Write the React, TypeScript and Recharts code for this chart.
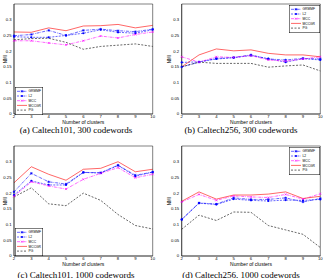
import { LineChart, Line, XAxis, YAxis, Legend } from "recharts";

const CLUSTERS = [2, 3, 4, 5, 6, 7, 8, 9, 10];
const Y_TICKS = [0, 0.05, 0.1, 0.15, 0.2, 0.25, 0.3];

// (a) Caltech101, 300 codewords
const A_GRMMF = [0.249, 0.253, 0.266, 0.25, 0.266, 0.27, 0.265, 0.262, 0.27];
const A_L2 = [0.246, 0.244, 0.244, 0.25, 0.257, 0.268, 0.26, 0.257, 0.268];
const A_MCC = [0.233, 0.233, 0.226, 0.22, 0.233, 0.248, 0.242, 0.253, 0.261];
const A_MCCGR = [0.261, 0.26, 0.274, 0.265, 0.28, 0.281, 0.285, 0.274, 0.282];
const A_PG = [0.236, 0.24, 0.241, 0.228, 0.206, 0.215, 0.219, 0.223, 0.215];

// (b) Caltech256, 300 codewords
const B_GRMMF = [0.15, 0.165, 0.177, 0.18, 0.188, 0.175, 0.172, 0.177, 0.175];
const B_L2 = [0.164, 0.166, 0.175, 0.179, 0.186, 0.176, 0.165, 0.176, 0.172];
const B_MCC = [0.182, 0.165, 0.182, 0.18, 0.186, 0.172, 0.168, 0.175, 0.182];
const B_MCCGR = [0.15, 0.188, 0.207, 0.201, 0.204, 0.193, 0.188, 0.188, 0.182];
const B_PG = [0.15, 0.165, 0.161, 0.161, 0.161, 0.149, 0.153, 0.156, 0.137];

// (c) Caltech101, 1000 codewords
const C_GRMMF = [0.204, 0.263, 0.236, 0.229, 0.266, 0.265, 0.289, 0.257, 0.267];
const C_L2 = [0.194, 0.239, 0.226, 0.226, 0.266, 0.264, 0.288, 0.254, 0.267];
const C_MCC = [0.19, 0.236, 0.223, 0.213, 0.244, 0.263, 0.281, 0.249, 0.26];
const C_MCCGR = [0.233, 0.284, 0.26, 0.241, 0.276, 0.279, 0.3, 0.268, 0.276];
const C_PG = [0.188, 0.217, 0.166, 0.16, 0.2, 0.177, 0.132, 0.097, 0.086];

// (d) Caltech256, 1000 codewords
const D_GRMMF = [0.116, 0.169, 0.165, 0.185, 0.18, 0.18, 0.185, 0.172, 0.183];
const D_L2 = [0.116, 0.168, 0.164, 0.181, 0.177, 0.175, 0.178, 0.177, 0.18];
const D_MCC = [0.172, 0.196, 0.177, 0.191, 0.188, 0.186, 0.196, 0.181, 0.198];
const D_MCCGR = [0.174, 0.204, 0.181, 0.194, 0.194, 0.197, 0.204, 0.183, 0.19];
const D_PG = [0.085, 0.13, 0.113, 0.14, 0.139, 0.097, 0.083, 0.069, 0.027];

const SERIES = [
  { key: "GRMMF", color: "#0000ff", dash: "3 1 0.7 1", marker: "star" },
  { key: "L2", color: "#0000ff", dash: "2 1.2", marker: "dot" },
  { key: "MCC", color: "#ff00ff", dash: "3 1 0.7 1", marker: "x" },
  { key: "MCCGR", color: "#ff0000", dash: undefined, marker: null },
  { key: "PG", color: "#000000", dash: "2 1.5", marker: null },
];

function makeRows(g: number[], l2: number[], mcc: number[], mccgr: number[], pg: number[]) {
  return CLUSTERS.map((k, i) => ({
    k,
    GRMMF: g[i],
    L2: l2[i],
    MCC: mcc[i],
    MCCGR: mccgr[i],
    PG: pg[i],
  }));
}

function Marker({ cx, cy, color, kind }: { cx: number; cy: number; color: string; kind: string | null }) {
  if (kind === "dot") return <circle cx={cx} cy={cy} r={1.1} fill={color} />;
  if (kind === "star") {
    const s = 1.3;
    return (
      <g stroke={color} strokeWidth={0.6}>
        <line x1={cx - s} x2={cx + s} y1={cy} y2={cy} />
        <line x1={cx} x2={cx} y1={cy - s} y2={cy + s} />
        <line x1={cx - s * 0.7} x2={cx + s * 0.7} y1={cy - s * 0.7} y2={cy + s * 0.7} />
        <line x1={cx - s * 0.7} x2={cx + s * 0.7} y1={cy + s * 0.7} y2={cy - s * 0.7} />
      </g>
    );
  }
  if (kind === "x") {
    const s = 1;
    return (
      <g stroke={color} strokeWidth={0.6}>
        <line x1={cx - s} x2={cx + s} y1={cy - s} y2={cy + s} />
        <line x1={cx - s} x2={cx + s} y1={cy + s} y2={cy - s} />
      </g>
    );
  }
  return null;
}

function LegendBox({ width }: { width: number }) {
  const rowH = 4.7;
  const height = SERIES.length * rowH + 4.5;
  return (
    <svg width={width} height={height} style={{ display: "block" }}>
      <rect x={0.25} y={0.25} width={width - 0.5} height={height - 0.5} fill="#fff" stroke="#000" strokeWidth={0.5} />
      {SERIES.map((s, i) => {
        const y = 4.3 + i * rowH;
        return (
          <g key={s.key}>
            <line x1={2} x2={12} y1={y} y2={y} stroke={s.color} strokeWidth={0.6} strokeDasharray={s.dash} />
            {s.marker && <Marker cx={7} cy={y} color={s.color} kind={s.marker} />}
            <text x={13.5} y={y + 1.1} fontSize={3.3} fill="#000" fontFamily="Liberation Sans">
              {s.key}
            </text>
          </g>
        );
      })}
    </svg>
  );
}

const fmt = (v: number) => String(+v.toFixed(2));
const tickStyle = { fontSize: 4.2, fill: "#000", fontFamily: "Liberation Sans" };

interface PanelProps {
  left: number;
  top: number;
  width: number;
  yAxisW: number;
  rightM: number;
  nmiX: number;
  rows: ReturnType<typeof makeRows>;
  legend: { x: number; y: number; w: number };
}

function Panel({ left, top, width, yAxisW, rightM, nmiX, rows, legend }: PanelProps) {
  const midX = (yAxisW + width - rightM) / 2;
  return (
    <div style={{ position: "absolute", left, top }}>
      <LineChart width={width} height={126} data={rows} margin={{ top: 4, right: rightM, bottom: 0, left: 0 }}>
        <XAxis
          dataKey="k"
          type="number"
          domain={[2, 10]}
          ticks={CLUSTERS}
          interval={0}
          height={12}
          tickLine={false}
          tickSize={0}
          tickMargin={0.8}
          tick={tickStyle}
          axisLine={{ stroke: "#000", strokeWidth: 0.5 }}
        />
        <XAxis xAxisId="bin" orientation="bottom" mirror type="number" domain={[2, 10]} ticks={CLUSTERS} tick={false} tickSize={1.5} stroke="#000" strokeWidth={0.5} />
        <XAxis xAxisId="top" orientation="top" mirror type="number" domain={[2, 10]} ticks={CLUSTERS} tick={false} tickSize={1.5} stroke="#000" strokeWidth={0.5} />
        <YAxis
          type="number"
          domain={[0, 0.35]}
          ticks={Y_TICKS}
          interval={0}
          width={yAxisW}
          tickLine={false}
          tickSize={0}
          tickMargin={2.5}
          tick={tickStyle}
          tickFormatter={fmt}
          axisLine={{ stroke: "#000", strokeWidth: 0.5 }}
          label={{
            content: () => (
              <g fill="#000" fontFamily="Liberation Sans">
                <text x={nmiX} y={59} transform={`rotate(-90 ${nmiX} 59)`} textAnchor="middle" dominantBaseline="central" fontSize={4.5}>
                  NMI
                </text>
                <text x={midX} y={123.8} textAnchor="middle" fontSize={5}>
                  Number of clusters
                </text>
              </g>
            ),
          }}
        />
        <YAxis yAxisId="lin" orientation="left" mirror type="number" domain={[0, 0.35]} ticks={Y_TICKS} tick={false} tickSize={1.5} stroke="#000" strokeWidth={0.5} />
        <YAxis yAxisId="right" orientation="right" mirror type="number" domain={[0, 0.35]} ticks={Y_TICKS} tick={false} tickSize={1.5} stroke="#000" strokeWidth={0.5} />
        {SERIES.map((s) => (
          <Line
            key={s.key}
            dataKey={s.key}
            type="linear"
            stroke={s.color}
            strokeWidth={0.6}
            strokeDasharray={s.dash}
            isAnimationActive={false}
            dot={
              s.marker
                ? (p: any) => <Marker key={`${s.key}-${p.index}`} cx={p.cx} cy={p.cy} color={s.color} kind={s.marker} />
                : false
            }
            activeDot={false}
          />
        ))}
        <Legend
          layout="vertical"
          align="center"
          verticalAlign="middle"
          content={() => <LegendBox width={legend.w} />}
          wrapperStyle={{ left: legend.x, top: legend.y, width: legend.w, height: "auto", right: "auto", bottom: "auto" }}
        />
      </LineChart>
    </div>
  );
}

const captionStyle = {
  position: "absolute" as const,
  fontFamily: '"Liberation Serif", "Times New Roman", Times, serif',
  fontSize: 9,
  lineHeight: "9px",
  textAlign: "center" as const,
  whiteSpace: "nowrap" as const,
  color: "#000",
};

export default function App() {
  const rowB = 142.3;
  return (
    <div style={{ position: "absolute", left: 0, top: 0, width: 323, height: 278, overflow: "hidden", background: "#fff", fontFamily: "Liberation Sans" }}>
      <Panel left={0} top={0} width={161} yAxisW={14} rightM={8.3} nmiX={5} rows={makeRows(A_GRMMF, A_L2, A_MCC, A_MCCGR, A_PG)} legend={{ x: 15, y: 87, w: 28 }} />
      <Panel left={161} top={0} width={162} yAxisW={20.7} rightM={2.7} nmiX={8.3} rows={makeRows(B_GRMMF, B_L2, B_MCC, B_MCCGR, B_PG)} legend={{ x: 128.3, y: 4.5, w: 31 }} />
      <Panel left={0} top={rowB} width={161} yAxisW={14} rightM={8.3} nmiX={5} rows={makeRows(C_GRMMF, C_L2, C_MCC, C_MCCGR, C_PG)} legend={{ x: 15, y: 86, w: 28 }} />
      <Panel left={161} top={rowB} width={162} yAxisW={20.7} rightM={2.7} nmiX={8.3} rows={makeRows(D_GRMMF, D_L2, D_MCC, D_MCCGR, D_PG)} legend={{ x: 128.3, y: 4.5, w: 31 }} />
      <div style={{ ...captionStyle, left: 0, top: 126, width: 152 }}>(a) Caltech101, 300 codewords</div>
      <div style={{ ...captionStyle, left: 161, top: 126, width: 160 }}>(b) Caltech256, 300 codewords</div>
      <div style={{ ...captionStyle, left: 0, top: 271, width: 152 }}>(c) Caltech101, 1000 codewords</div>
      <div style={{ ...captionStyle, left: 161, top: 271, width: 160 }}>(d) Caltech256, 1000 codewords</div>
    </div>
  );
}
